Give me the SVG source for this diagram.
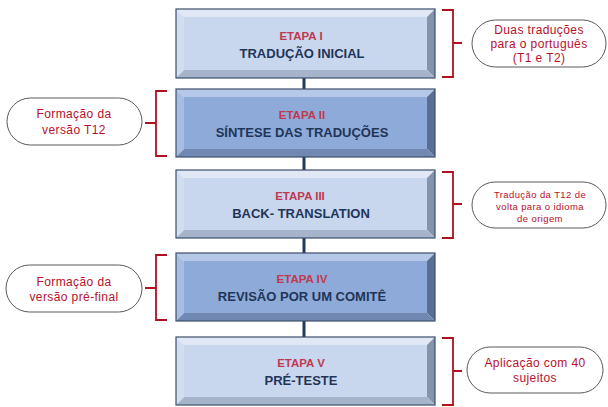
<svg xmlns="http://www.w3.org/2000/svg" width="608" height="407" viewBox="0 0 608 407">
<style>
.face-l{fill:#c8d6ee}
.face-d{fill:#8eaad8}
.bt-l{fill:#e0e8f6}.bl-l{fill:#d3ddf0}.br-l{fill:#8494ad}.bb-l{fill:#a6b4cb}
.bt-d{fill:#b6c8e8}.bl-d{fill:#a8bde2}.br-d{fill:#596e93}.bb-d{fill:#7088b2}
.outline{fill:none;stroke:#3d4f6b;stroke-width:1.2}
.etapa{font-family:"Liberation Sans",Arial,sans-serif;font-size:11.5px;font-weight:bold;fill:#c0394f;text-anchor:middle}
.title{font-family:"Liberation Sans",Arial,sans-serif;font-size:13px;font-weight:bold;fill:#1f3557;text-anchor:middle}
.brk{fill:none;stroke:#b01020;stroke-width:1.8}
.pill{fill:#ffffff;stroke:#5a5a5a;stroke-width:1}
.ct{font-family:"Liberation Sans",Arial,sans-serif;font-size:12px;letter-spacing:0.4px;fill:#b8102a;text-anchor:middle}
.cs{font-family:"Liberation Sans",Arial,sans-serif;font-size:9.5px;letter-spacing:0.4px;fill:#b8102a;text-anchor:middle}
.conn{stroke:#1f3a5c;stroke-width:3}
</style>
<rect width="608" height="407" fill="#ffffff"/>
<g id="connectors">
<line class="conn" x1="304" y1="78" x2="304" y2="89"/>
<line class="conn" x1="304" y1="157" x2="304" y2="170"/>
<line class="conn" x1="304" y1="238" x2="304" y2="253"/>
<line class="conn" x1="304" y1="321" x2="304" y2="337"/>
</g>
<g id="etapa1">
<polygon class="bt-l" points="176,9 435,9 427,17 184,17"/>
<polygon class="bl-l" points="176,9 184,17 184,70 176,78"/>
<polygon class="br-l" points="435,9 435,78 427,70 427,17"/>
<polygon class="bb-l" points="176,78 184,70 427,70 435,78"/>
<rect class="face-l" x="184" y="17" width="243" height="53"/>
<rect class="outline" x="176" y="9" width="259" height="69"/>
<text class="etapa" x="301" y="40">ETAPA I</text>
<text class="title" x="302" y="58">TRADUÇÃO INICIAL</text>
</g>
<g id="etapa2">
<polygon class="bt-d" points="176,89 435,89 427,97 184,97"/>
<polygon class="bl-d" points="176,89 184,97 184,149 176,157"/>
<polygon class="br-d" points="435,89 435,157 427,149 427,97"/>
<polygon class="bb-d" points="176,157 184,149 427,149 435,157"/>
<rect class="face-d" x="184" y="97" width="243" height="52"/>
<rect class="outline" x="176" y="89" width="259" height="68"/>
<text class="etapa" x="302" y="119">ETAPA II</text>
<text class="title" x="302" y="137">SÍNTESE DAS TRADUÇÕES</text>
</g>
<g id="etapa3">
<polygon class="bt-l" points="176,170 435,170 427,178 184,178"/>
<polygon class="bl-l" points="176,170 184,178 184,230 176,238"/>
<polygon class="br-l" points="435,170 435,238 427,230 427,178"/>
<polygon class="bb-l" points="176,238 184,230 427,230 435,238"/>
<rect class="face-l" x="184" y="178" width="243" height="52"/>
<rect class="outline" x="176" y="170" width="259" height="68"/>
<text class="etapa" x="300" y="200">ETAPA III</text>
<text class="title" x="301" y="218">BACK- TRANSLATION</text>
</g>
<g id="etapa4">
<polygon class="bt-d" points="176,253 435,253 427,261 184,261"/>
<polygon class="bl-d" points="176,253 184,261 184,313 176,321"/>
<polygon class="br-d" points="435,253 435,321 427,313 427,261"/>
<polygon class="bb-d" points="176,321 184,313 427,313 435,321"/>
<rect class="face-d" x="184" y="261" width="243" height="52"/>
<rect class="outline" x="176" y="253" width="259" height="68"/>
<text class="etapa" x="302" y="283">ETAPA IV</text>
<text class="title" x="302" y="301">REVISÃO POR UM COMITÊ</text>
</g>
<g id="etapa5">
<polygon class="bt-l" points="176,337 435,337 427,345 184,345"/>
<polygon class="bl-l" points="176,337 184,345 184,397 176,405"/>
<polygon class="br-l" points="435,337 435,405 427,397 427,345"/>
<polygon class="bb-l" points="176,405 184,397 427,397 435,405"/>
<rect class="face-l" x="184" y="345" width="243" height="52"/>
<rect class="outline" x="176" y="337" width="259" height="68"/>
<text class="etapa" x="301" y="367">ETAPA V</text>
<text class="title" x="301" y="385">PRÉ-TESTE</text>
</g>
<g id="nota1">
<path class="brk" d="M442,10 H453 V77 H442 M453,43 H462"/>
<rect class="pill" x="472" y="20" width="134" height="47" rx="23.5"/>
<text class="ct" x="539" y="34">Duas traduções</text>
<text class="ct" x="539" y="48">para o português</text>
<text class="ct" x="539" y="62">(T1 e T2)</text>
</g>
<g id="nota2">
<path class="brk" d="M167,91 H156 V156 H167 M156,123 H145"/>
<rect class="pill" x="7" y="98" width="135" height="47" rx="23.5"/>
<text class="ct" x="74" y="118">Formação da</text>
<text class="ct" x="74" y="134">versão T12</text>
</g>
<g id="nota3">
<path class="brk" d="M442,172 H453 V238 H442 M453,204 H462"/>
<rect class="pill" x="472" y="182" width="134" height="46" rx="23"/>
<text class="cs" x="540" y="198">Tradução  da T12 de</text>
<text class="cs" x="540" y="210">volta para o idioma</text>
<text class="cs" x="540" y="222">de origem</text>
</g>
<g id="nota4">
<path class="brk" d="M167,255 H156 V320 H167 M156,288 H145"/>
<rect class="pill" x="6" y="265" width="136" height="47" rx="23.5"/>
<text class="ct" x="74" y="286">Formação da</text>
<text class="ct" x="74" y="301">versão pré-final</text>
</g>
<g id="nota5">
<path class="brk" d="M442,338 H453 V405 H442 M453,371 H462"/>
<rect class="pill" x="467" y="347" width="136" height="46" rx="23"/>
<text class="ct" x="535" y="367">Aplicação com 40</text>
<text class="ct" x="535" y="382">sujeitos</text>
</g>
</svg>
